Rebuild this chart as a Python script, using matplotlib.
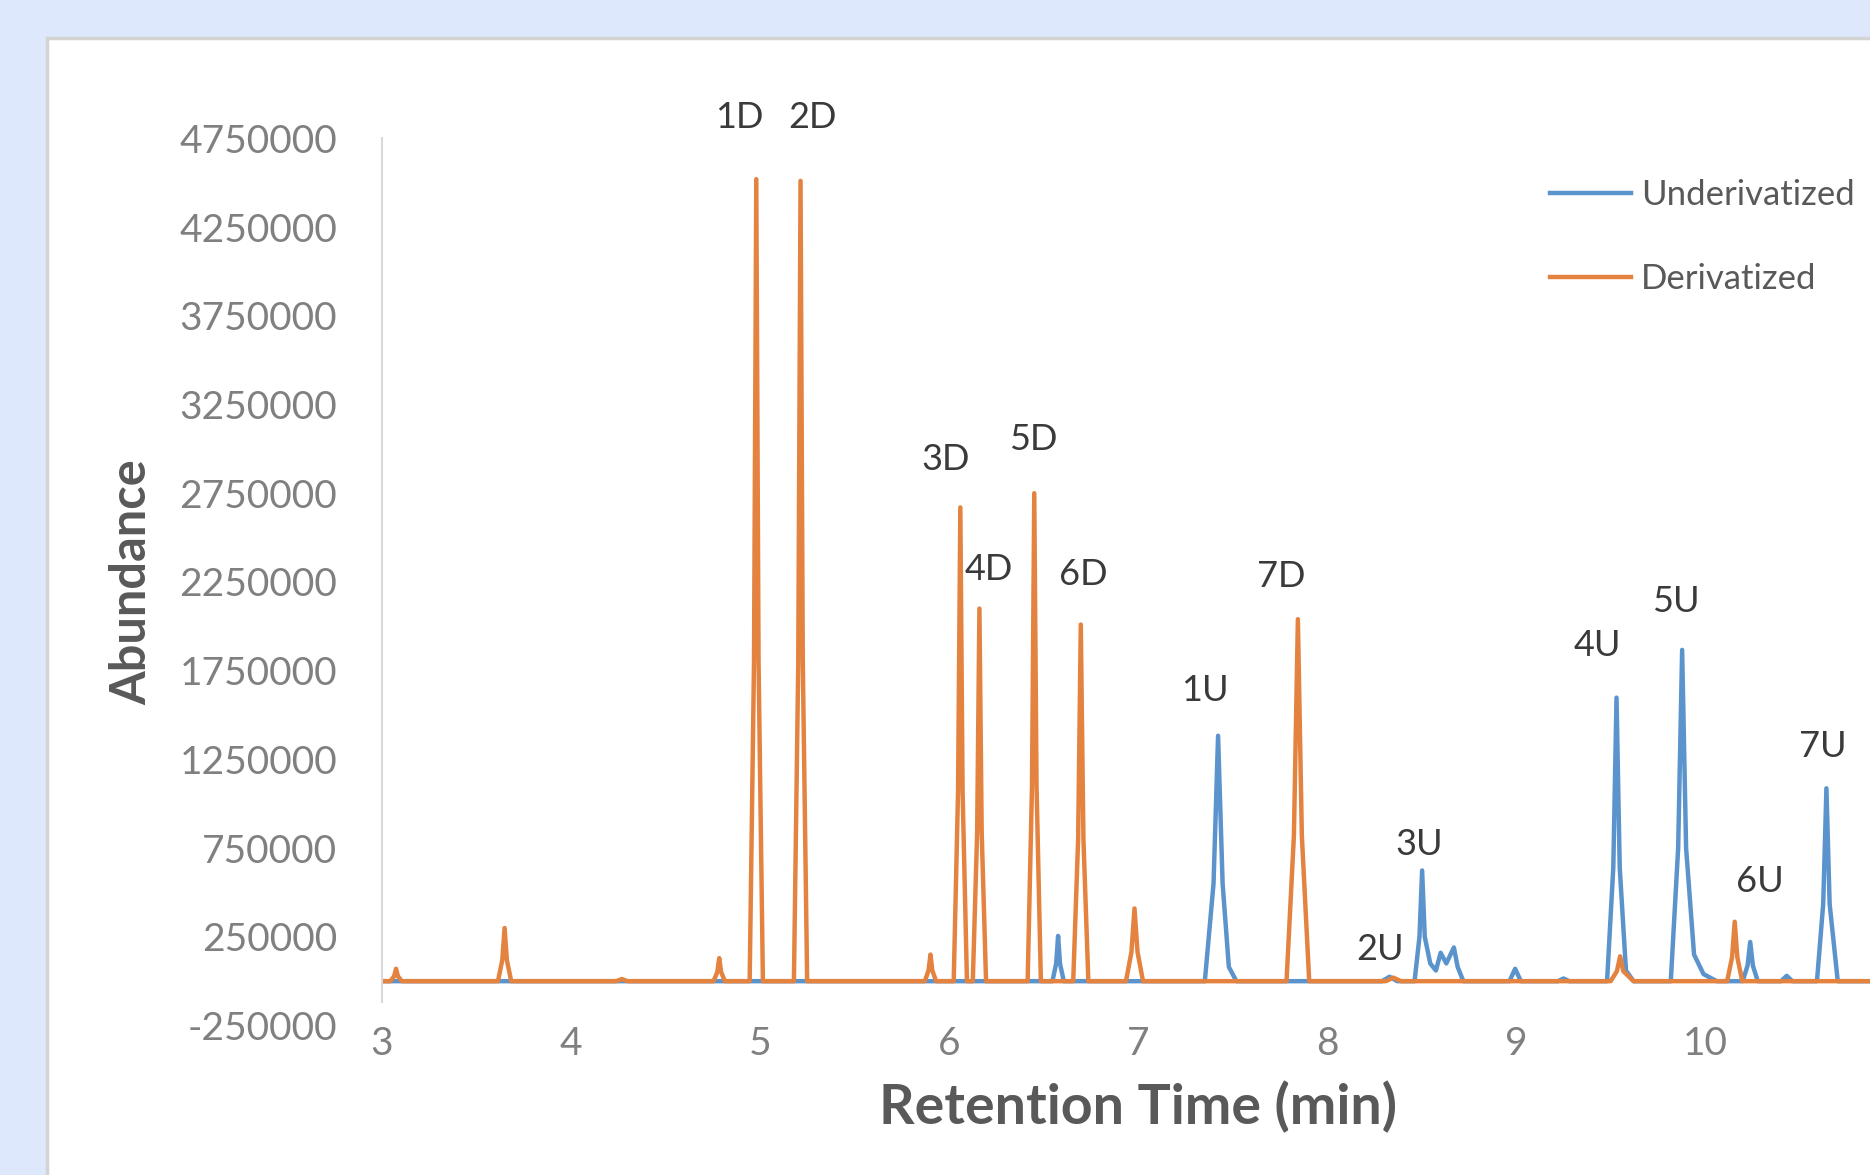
import matplotlib
matplotlib.use('Agg')
import matplotlib.pyplot as plt
from matplotlib.patches import Rectangle

plt.rcParams['font.family'] = ['Lato', 'DejaVu Sans']

# chromatogram traces: (retention time in min, abundance)
underivatized = [
    (3.000, 0),
    (6.547, 0), (6.567, 100000), (6.577, 255000), (6.587, 100000), (6.607, 0),
    (7.353, 0), (7.399, 550000), (7.423, 1383000), (7.447, 550000), (7.480, 80000), (7.520, 0),
    (8.290, 0), (8.330, 25000), (8.370, 0),
    (8.462, 0), (8.488, 250000), (8.502, 624000), (8.516, 250000), (8.545, 100000), (8.575, 60000),
    (8.600, 160000), (8.630, 100000), (8.670, 190000), (8.690, 80000), (8.720, 0),
    (8.964, 0), (8.994, 70000), (9.024, 0),
    (9.220, 0), (9.250, 15000), (9.280, 0),
    (9.480, 0), (9.513, 640000), (9.530, 1598000), (9.547, 640000), (9.580, 60000), (9.620, 0),
    (9.817, 0), (9.856, 750000), (9.877, 1867000), (9.898, 750000), (9.940, 150000),
    (9.990, 40000), (10.060, 0),
    (10.197, 0), (10.223, 88000), (10.237, 221000), (10.251, 88000), (10.277, 0),
    (10.400, 0), (10.430, 30000), (10.460, 0),
    (10.590, 0), (10.623, 435000), (10.640, 1087000), (10.657, 435000), (10.700, 0),
    (11.000, 0),
]

derivatized = [
    (3.000, 0),
    (3.046, 0), (3.066, 28000), (3.076, 70000), (3.086, 28000), (3.106, 0),
    (3.615, 0), (3.638, 120000), (3.650, 300000), (3.662, 120000), (3.685, 0),
    (4.240, 0), (4.270, 12000), (4.300, 0),
    (4.755, 0), (4.775, 52000), (4.785, 130000), (4.795, 52000), (4.815, 0),
    (4.946, 0), (4.969, 1800000), (4.981, 4520000), (4.993, 1800000), (5.016, 0),
    (5.180, 0), (5.203, 1800000), (5.215, 4510000), (5.227, 1800000), (5.250, 0),
    (5.872, 0), (5.892, 60000), (5.902, 150000), (5.912, 60000), (5.932, 0),
    (6.025, 0), (6.048, 1070000), (6.060, 2670000), (6.072, 1070000), (6.095, 0),
    (6.126, 0), (6.149, 840000), (6.161, 2100000), (6.173, 840000), (6.196, 0),
    (6.416, 0), (6.439, 1100000), (6.451, 2750000), (6.463, 1100000), (6.486, 0),
    (6.657, 0), (6.683, 800000), (6.697, 2010000), (6.711, 800000), (6.737, 0),
    (6.936, 0), (6.965, 165000), (6.981, 410000), (6.997, 165000), (7.026, 0),
    (7.785, 0), (7.824, 820000), (7.845, 2040000), (7.866, 820000), (7.905, 0),
    (8.310, 0), (8.350, 20000), (8.390, 0),
    (9.499, 0), (9.532, 56000), (9.549, 140000), (9.566, 56000), (9.620, 0),
    (10.115, 0), (10.141, 134000), (10.155, 335000), (10.169, 134000), (10.195, 0),
    (11.000, 0),
]

u_time, u_abund = zip(*underivatized)
d_time, d_abund = zip(*derivatized)

peak_labels = ['1D', '2D', '3D', '4D', '5D', '6D', '7D',
               '1U', '2U', '3U', '4U', '5U', '6U', '7U']
label_pos = [(4.893, 4870000), (5.278, 4870000), (5.984, 2940000), (6.211, 2320000),
             (6.445, 3050000), (6.710, 2290000), (7.757, 2280000),
             (7.353, 1640000), (8.281, 180000), (8.489, 770000), (9.429, 1890000),
             (9.845, 2140000), (10.287, 560000), (10.621, 1320000)]

x_ticks = [3, 4, 5, 6, 7, 8, 9, 10]
y_ticks = [-250000, 250000, 750000, 1250000, 1750000, 2250000,
           2750000, 3250000, 3750000, 4250000, 4750000]

fig = plt.figure(figsize=(18.7, 11.75), dpi=100, facecolor='#dee8fc')
# white chart panel
fig.patches.append(Rectangle((47 / 1870, -0.05), 1.2, 1.05 - 38 / 1175,
                             transform=fig.transFigure, facecolor='white',
                             edgecolor='#d4d4d4', linewidth=2.5, zorder=-10))

ax = fig.add_axes([0.2041, 0.1272, 0.8090, 0.7551])
ax.set_facecolor('none')

ax.plot(u_time, u_abund, color='#5b93cc', linewidth=3.2, label='Underivatized')
ax.plot(d_time, d_abund, color='#e4823f', linewidth=3.2, label='Derivatized')

for txt, (px, py) in zip(peak_labels, label_pos):
    ax.text(px, py, txt, ha='center', va='center', fontsize=26, color='#3a3a3a')

ax.set_xlim(3, 11)
ax.set_ylim(-250000, 4750000)
ax.set_xticks(x_ticks)
ax.set_xticklabels([str(t) for t in x_ticks])
ax.set_yticks(y_ticks)
ax.set_yticklabels([str(t) for t in y_ticks])
ax.tick_params(axis='both', length=0, labelsize=28, labelcolor='#808080')
ax.tick_params(axis='y', pad=32)
ax.tick_params(axis='x', pad=0)

for s in ['top', 'right', 'bottom']:
    ax.spines[s].set_visible(False)
ax.spines['left'].set_color('#d9d9d9')
ax.spines['left'].set_linewidth(1.5)
ax.spines['left'].set_bounds(-120000, 4750000)

ax.set_xlabel('Retention Time (min)', fontsize=40, fontweight='bold', color='#595959')
ax.set_ylabel('Abundance', fontsize=35, fontweight='bold', color='#595959')
ax.xaxis.set_label_coords(0.5, -0.0915)
ax.xaxis.label.set_verticalalignment('center')
ax.yaxis.set_label_coords(-0.165, 0.5)
ax.yaxis.label.set_verticalalignment('center')

leg = ax.legend(loc='upper left', bbox_to_anchor=(0.8289, 0.8475),
                bbox_transform=fig.transFigure, frameon=False, fontsize=25,
                borderpad=0, borderaxespad=0, handlelength=2.33,
                handletextpad=0.3, labelspacing=1.5)
for t in leg.get_texts():
    t.set_color('#595959')

fig.savefig('out.png', dpi=100, facecolor=fig.get_facecolor())
